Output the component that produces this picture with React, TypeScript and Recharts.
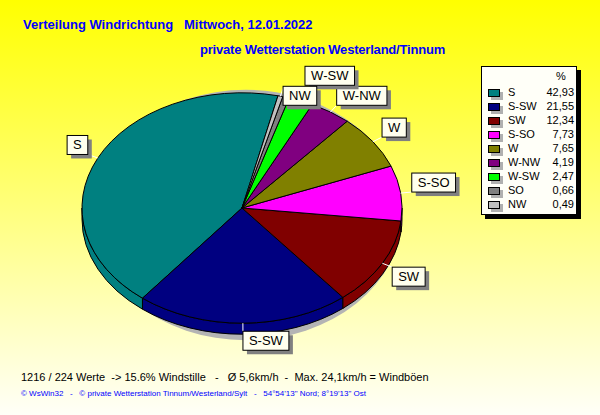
import { PieChart, Pie, Legend } from "recharts";

const DIRECTIONS = ["S", "S-SW", "SW", "S-SO", "W", "W-NW", "W-SW", "SO", "NW"];
const SHARES = [42.93, 21.55, 12.34, 7.73, 7.65, 4.19, 2.47, 0.66, 0.49];
const COLORS = [
  "#008080",
  "#000080",
  "#800000",
  "#FF00FF",
  "#808000",
  "#800080",
  "#00FF00",
  "#808080",
  "#C0C0C0",
];

const TITLE = "Verteilung Windrichtung   Mittwoch, 12.01.2022";
const SUBTITLE = "private Wetterstation Westerland/Tinnum";
const STATS = "1216 / 224 Werte  -> 15.6% Windstille   -   Ø 5,6km/h  -  Max. 24,1km/h = Windböen";
const FOOTER =
  "© WsWin32   -   © private Wetterstation Tinnum/Westerland/Sylt   -   54°54'13\" Nord; 8°19'13\" Ost";

const data = DIRECTIONS.map((name, i) => ({ name, value: SHARES[i], fill: COLORS[i] }));

// pie geometry: a tilted disc, drawn as an ellipse with a front wall
const CX = 242;
const CY = 208;
const RADIUS = 160;
const TILT = 0.72;
const DEPTH = 11;
const START = 77;

const FONT = "'Liberation Sans', Arial, sans-serif";

function ellipsePt(cx: number, cy: number, rx: number, ry: number, deg: number, dy = 0) {
  const a = (deg * Math.PI) / 180;
  return [cx + rx * Math.cos(a), cy - ry * Math.sin(a) + dy];
}

const xy = (p: number[]) => `${p[0].toFixed(2)},${p[1].toFixed(2)}`;

function Slice3D(props: any) {
  const { cx, cy, outerRadius, startAngle, endAngle, fill } = props;
  const rx = outerRadius;
  const ry = outerRadius * TILT;
  const s = Math.min(startAngle, endAngle);
  const e = Math.max(startAngle, endAngle);
  const large = e - s > 180 ? 1 : 0;
  const top = `M${cx},${cy} L${xy(ellipsePt(cx, cy, rx, ry, s))} A${rx},${ry} 0 ${large} 0 ${xy(
    ellipsePt(cx, cy, rx, ry, e)
  )} Z`;

  // only the front half (180..360 deg) shows its wall
  const walls: string[] = [];
  for (const base of [-180, 180, 540]) {
    const a = Math.max(s, base);
    const b = Math.min(e, base + 180);
    if (b > a) {
      walls.push(
        `M${xy(ellipsePt(cx, cy, rx, ry, a))} A${rx},${ry} 0 0 0 ${xy(ellipsePt(cx, cy, rx, ry, b))} ` +
          `L${xy(ellipsePt(cx, cy, rx, ry, b, DEPTH))} A${rx},${ry} 0 0 1 ${xy(
            ellipsePt(cx, cy, rx, ry, a, DEPTH)
          )} Z`
      );
    }
  }

  return (
    <g>
      {walls.map((d, i) => (
        <path key={i} d={d} fill={fill} stroke="#000" strokeWidth={1} strokeLinejoin="round" />
      ))}
      <path d={top} fill={fill} stroke="#000" strokeWidth={1} strokeLinejoin="round" />
    </g>
  );
}

function ShadowShape(props: any) {
  const { cx, cy, outerRadius } = props;
  return (
    <ellipse
      cx={cx + 4}
      cy={cy + 7}
      rx={outerRadius - 4}
      ry={outerRadius * TILT + 10}
      fill="#B4B4B4"
    />
  );
}

// rough Arial advance widths (em) for the label glyphs
const GLYPH: Record<string, number> = { S: 0.667, W: 0.944, N: 0.722, O: 0.778, "-": 0.333 };
const LABEL_SIZE = 13;
const textWidth = (s: string) =>
  s.split("").reduce((w, ch) => w + (GLYPH[ch] ?? 0.6), 0) * LABEL_SIZE;

type Box = {
  x: number;
  y: number;
  w: number;
  h: number;
  ex: number;
  ey: number;
  ax: number;
  ay: number;
  hidden?: boolean;
};

/** Place each mark at the corner facing the pie; nudge it off the first mark it hits. */
function layoutLabels(cx: number, cy: number, r: number): Box[] {
  const total = SHARES.reduce((a, b) => a + b, 0);
  const rx = r;
  const ry = r * TILT;
  let acc = START;
  const boxes: Box[] = [];
  SHARES.forEach((v, i) => {
    const sweep = (v / total) * 360;
    const mid = acc + sweep / 2;
    acc += sweep;
    const [ex, ey] = ellipsePt(cx, cy, rx, ry, mid);
    const [ax, ay] = ellipsePt(cx, cy, rx * 1.07, ry * 1.07, mid);
    const w = textWidth(DIRECTIONS[i]) + 12;
    const h = 19;
    const a = (mid * Math.PI) / 180;
    const x = Math.cos(a) >= 0 ? ax : ax - w;
    let y = Math.sin(a) >= 0 ? ay - h : ay;
    const hit = boxes.find(
      (b) => x < b.x + b.w && x + w > b.x && y < b.y + b.h && y + h > b.y
    );
    if (hit) {
      y = y + h / 2 <= hit.y + hit.h / 2 ? hit.y - h - 1 : hit.y + hit.h + 1;
    }
    boxes.push({ x, y, w, h, ex, ey, ax, ay });
  });
  // a mark mostly covered by a later one stays invisible, as in the original
  boxes.forEach((b, i) => {
    boxes.slice(i + 1).forEach((o) => {
      const ow = Math.min(b.x + b.w, o.x + o.w) - Math.max(b.x, o.x);
      const oh = Math.min(b.y + b.h, o.y + o.h) - Math.max(b.y, o.y);
      if (ow > 0 && oh > 0 && ow * oh > 0.7 * b.w * b.h) b.hidden = true;
    });
  });
  return boxes;
}

function renderLabel(props: any) {
  const { cx, cy, outerRadius, index } = props;
  const b = layoutLabels(cx, cy, outerRadius)[index];
  if (!b || b.hidden) return null;
  return (
    <g key={`lbl-${index}`}>
      <line x1={b.ex} y1={b.ey} x2={b.ax} y2={b.ay} stroke="#FFFFFF" strokeWidth={1} />
      <rect x={b.x + 4} y={b.y + 4} width={b.w} height={b.h} fill="#808080" />
      <rect x={b.x} y={b.y} width={b.w} height={b.h} fill="#FFFFEE" stroke="#000" strokeWidth={1} />
      <text
        x={b.x + b.w / 2}
        y={b.y + b.h / 2 + 4.5}
        textAnchor="middle"
        fontFamily={FONT}
        fontSize={LABEL_SIZE}
        fill="#000"
      >
        {DIRECTIONS[index]}
      </text>
    </g>
  );
}

function LegendBox() {
  return (
    <div
      style={{
        width: 96,
        height: 149,
        boxSizing: "border-box",
        background: "#FFFFF8",
        border: "1px solid #000",
        boxShadow: "4px 4px 0 #000",
        fontFamily: FONT,
        fontSize: 11,
        color: "#000",
        position: "relative",
      }}
    >
      <div style={{ position: "absolute", left: 74, top: 3 }}>%</div>
      {DIRECTIONS.map((d, i) => (
        <div
          key={d}
          style={{ position: "absolute", left: 0, top: 19 + i * 14, width: 94, height: 14 }}
        >
          <span
            style={{
              position: "absolute",
              left: 6,
              top: 3,
              width: 10,
              height: 6,
              background: COLORS[i],
              border: "1px solid #000",
              boxShadow: "3px 3px 0 #B0B0B0",
            }}
          />
          <span style={{ position: "absolute", left: 26, top: 0 }}>{d}</span>
          <span style={{ position: "absolute", right: 2, top: 0 }}>
            {SHARES[i].toFixed(2).replace(".", ",")}
          </span>
        </div>
      ))}
    </div>
  );
}

export default function App() {
  return (
    <div
      style={{
        position: "relative",
        width: 600,
        height: 415,
        overflow: "hidden",
        background: "linear-gradient(to bottom, #FFFF00 0%, #FFFFF8 100%)",
        fontFamily: FONT,
      }}
    >
      <style>{"body{margin:0}"}</style>
      <div
        style={{
          position: "absolute",
          left: 23,
          top: 17,
          fontSize: 13,
          fontWeight: 700,
          color: "#0000FF",
          whiteSpace: "pre",
        }}
      >
        {TITLE}
      </div>
      <div
        style={{
          position: "absolute",
          left: 200,
          top: 42,
          fontSize: 13,
          fontWeight: 700,
          color: "#0000FF",
          whiteSpace: "pre",
          letterSpacing: -0.2,
        }}
      >
        {SUBTITLE}
      </div>

      <PieChart
        width={600}
        height={415}
        margin={{ top: 0, right: 0, bottom: 0, left: 0 }}
        style={{ position: "absolute", left: 0, top: 0 }}
      >
        <Pie
          data={[{ name: "shadow", value: 1 }]}
          dataKey="value"
          cx={CX}
          cy={CY}
          outerRadius={RADIUS}
          shape={ShadowShape}
          activeShape={ShadowShape}
          stroke="none"
          legendType="none"
          isAnimationActive={false}
        />
        <Pie
          data={data}
          dataKey="value"
          nameKey="name"
          cx={CX}
          cy={CY}
          outerRadius={RADIUS}
          startAngle={START}
          endAngle={START + 360}
          shape={Slice3D}
          activeShape={Slice3D}
          label={renderLabel}
          labelLine={false}
          isAnimationActive={false}
        />
        <Legend
          layout="vertical"
          align="right"
          verticalAlign="top"
          content={() => <LegendBox />}
          wrapperStyle={{ left: 481, top: 66, right: "auto", width: 100 }}
        />
      </PieChart>

      <div
        style={{
          position: "absolute",
          left: 21,
          top: 371,
          fontSize: 11,
          color: "#000",
          whiteSpace: "pre",
        }}
      >
        {STATS}
      </div>
      <div
        style={{
          position: "absolute",
          left: 21,
          top: 389,
          fontSize: 8,
          color: "#0000FF",
          whiteSpace: "pre",
        }}
      >
        {FOOTER}
      </div>
    </div>
  );
}
